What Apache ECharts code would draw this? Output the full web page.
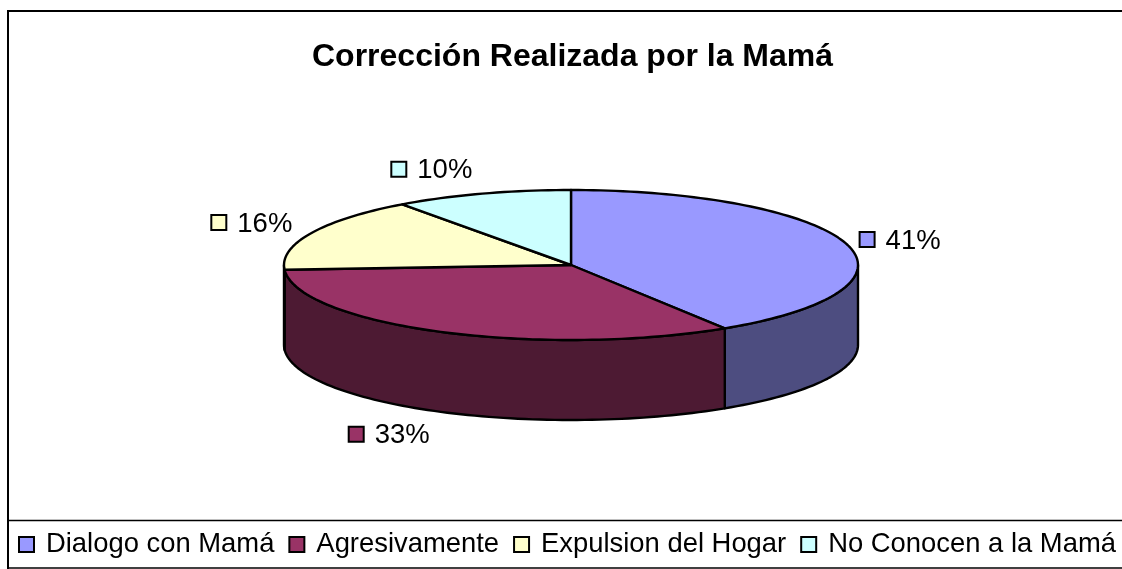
<!DOCTYPE html>
<html><head><meta charset="utf-8">
<style>html,body{margin:0;padding:0;background:#fff}#c{width:1122px;height:569px}</style>
<script src="https://cdn.jsdelivr.net/npm/echarts@6/dist/echarts.min.js"></script>
</head><body><div id="c"></div>
<script>
var titleText = 'Corrección Realizada por la Mamá';
var categories = ['Dialogo con Mamá', 'Agresivamente', 'Expulsion del Hogar', 'No Conocen a la Mamá'];
var values = [41, 33, 16, 10];
var topColors = ['#9999FF', '#993366', '#FFFFCC', '#CCFFFF'];
var sideColors = ['#4D4D80', '#4D1A33', '#808066', '#668080'];
// label placement relative to the slice's outer edge at mid angle
var labelDx = [12, -93, -101, -92];
var labelDy = [-5, 22, -11, -25];

var cx = 571, cy = 265, rx = 287, ry = 75, depth = 80;
var FONT = '"Liberation Sans", Arial, sans-serif';
var total = values.reduce(function (a, b) { return a + b; }, 0);
var starts = [];
values.reduce(function (acc, v, i) { starts[i] = acc; return acc + v; }, 0);

function pt(deg, dy) {
  var t = deg * Math.PI / 180;
  return [cx + rx * Math.sin(t), cy - ry * Math.cos(t) + (dy || 0)];
}
function arc(a, b, dy) {
  var out = [], n = Math.max(2, Math.ceil(Math.abs(b - a) / 1.5));
  for (var i = 0; i <= n; i++) out.push(pt(a + (b - a) * i / n, dy));
  return out;
}
function renderSlice(i) {
  return function (params, api) {
    var start = api.value(1) / total * 360;
    var end = start + api.value(0) / total * 360;
    var kids = [];
    var stroke = { stroke: '#000', lineWidth: 2.4, lineJoin: 'round' };
    var sa = Math.max(start, 90), sb = Math.min(end, 270);
    if (sb > sa) {
      var pts = arc(sa, sb, 0).concat(arc(sb, sa, depth));
      kids.push({ type: 'polygon', shape: { points: pts },
        style: Object.assign({ fill: sideColors[i] }, stroke) });
    }
    kids.push({ type: 'polygon', shape: { points: [[cx, cy]].concat(arc(start, end, 0)) },
      style: Object.assign({ fill: topColors[i] }, stroke) });
    var mid = (start + end) / 2;
    var frontFace = mid > 90 && mid < 270;
    var a = pt(mid, frontFace ? depth : 0);
    var lx = a[0] + labelDx[i], ly = a[1] + labelDy[i];
    kids.push({ type: 'rect', shape: { x: lx + 1, y: ly - 7, width: 15, height: 15 },
      style: { fill: topColors[i], stroke: '#000', lineWidth: 2 }, z2: 50 });
    kids.push({ type: 'text', x: lx + 27, y: ly + 2,
      style: { text: Math.round(api.value(0) / total * 100) + '%', font: '27.5px ' + FONT,
        fill: '#000', textVerticalAlign: 'middle', textAlign: 'left' }, z2: 50 });
    return { type: 'group', children: kids };
  };
}
var chart = echarts.init(document.getElementById('c'), null, { renderer: 'canvas' });
chart.setOption({
  animation: false,
  backgroundColor: '#fff',
  title: { text: titleText, left: 307, top: 36,
    textStyle: { fontFamily: FONT, fontSize: 32, fontWeight: 'bold', color: '#000' } },
  legend: {
    left: 18, top: 531, padding: 0, itemWidth: 15, itemHeight: 15, itemGap: 14,
    icon: 'rect', selectedMode: false,
    textStyle: { fontFamily: FONT, fontSize: 27.4, color: '#000', padding: [0, 0, 0, 7] },
    itemStyle: { borderColor: '#000', borderWidth: 2 },
    data: categories
  },
  xAxis: { show: false }, yAxis: { show: false },
  series: categories.map(function (name, i) {
    return {
      type: 'custom', name: name, coordinateSystem: 'none',
      itemStyle: { color: topColors[i], borderColor: '#000', borderWidth: 2 },
      renderItem: renderSlice(i), silent: true, clip: false,
      data: [[values[i], starts[i]]]
    };
  }),
  graphic: [
    { type: 'line', shape: { x1: 8, y1: 11, x2: 1122, y2: 11 }, style: { stroke: '#000', lineWidth: 2 } },
    { type: 'line', shape: { x1: 8, y1: 10, x2: 8, y2: 569 }, style: { stroke: '#000', lineWidth: 2 } },
    { type: 'line', shape: { x1: 8, y1: 520.5, x2: 1122, y2: 520.5 }, style: { stroke: '#000', lineWidth: 1.5 } },
    { type: 'line', shape: { x1: 8, y1: 568, x2: 1122, y2: 568 }, style: { stroke: '#000', lineWidth: 1.5 } }
  ]
});
</script></body></html>
